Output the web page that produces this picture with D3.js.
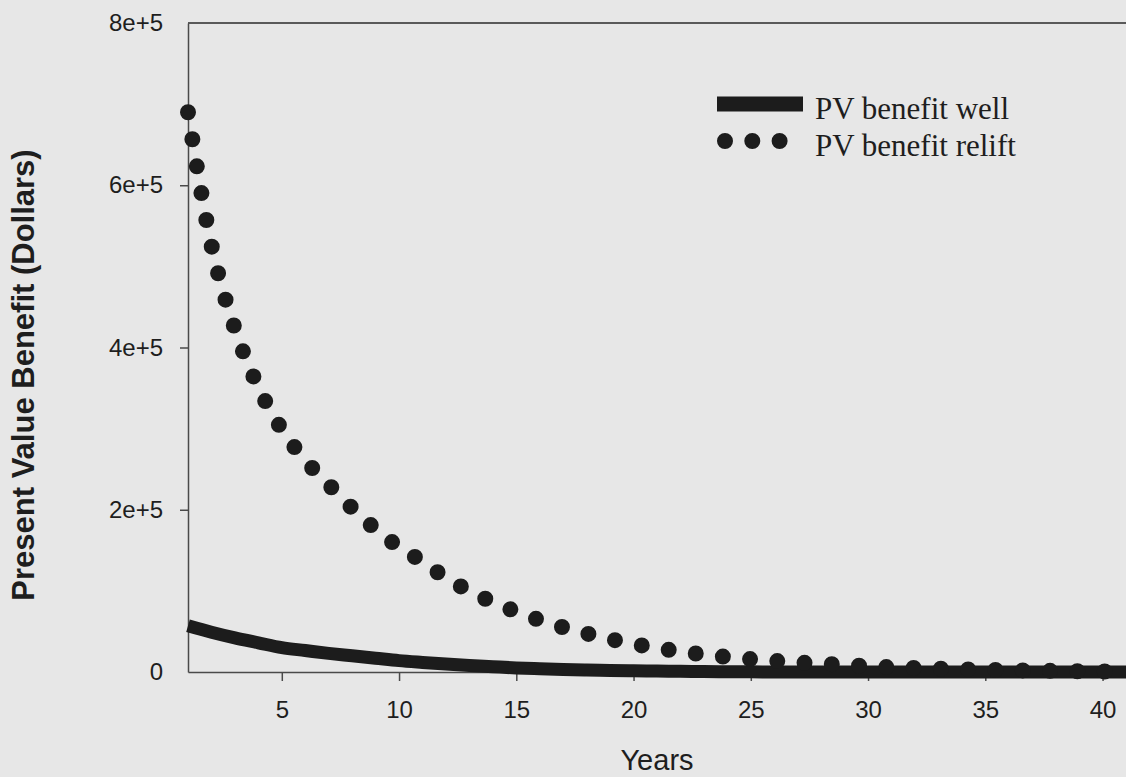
<!DOCTYPE html>
<html>
<head>
<style>
body { margin: 0; background: #e7e7e7; }
svg { display: block; background: #e7e7e7; }
.axis path, .axis line { stroke: #4a4a4a; stroke-width: 1.5; }
.axis text { font-family: "Liberation Sans", Arial, sans-serif; font-size: 24px; fill: #1e1e1e; }
.title { font-family: "Liberation Sans", Arial, sans-serif; fill: #1e1e1e; }
.legend text { font-family: "Liberation Serif", "Times New Roman", serif; font-size: 31px; fill: #1e1e1e; }
</style>
<title>pv benefit</title>
<script src="https://cdn.jsdelivr.net/npm/d3@7/dist/d3.min.js"></script>
</head>
<body>
<svg width="1126" height="777"></svg>
<script>

var years = [1,2,3,4,5,6,7,8,9,10,11,12,13,14,15,16,17,18,19,20,
             21,22,23,24,25,26,27,28,29,30,31,32,33,34,35,36,37,38,39,40,41];

// PV benefit well (solid thick line)
var wellValues = [57000,49000,42000,36000,30000,26500,23000,20000,17000,14000,
                  11800,9800,8000,6500,5000,4000,3200,2500,2000,1500,
                  1200,900,600,300,200,100,0,0,0,0,
                  0,0,0,0,0,0,0,0,0,0,0];

// PV benefit relift (dotted line)
var reliftValues = [690000,526000,423000,351000,299000,261000,231000,202000,176000,154000,
                    136000,116000,100000,86000,74500,64000,55000,47500,40500,34600,
                    29700,25200,21600,18400,15900,13700,11800,10200,8900,7000,
                    5800,4900,4100,3400,2800,2200,1700,1300,900,600,400];

var xTicks = [5,10,15,20,25,30,35,40];
var yTicks = [0,200000,400000,600000,800000];
var yTickLabels = ["0","2e+5","4e+5","6e+5","8e+5"];

var legendItems = [
  {text: "PV benefit well", kind: "solid"},
  {text: "PV benefit relift", kind: "dots"}
];

var svg = d3.select("svg"),
    margin = {top: 23, right: 0, bottom: 105, left: 188},
    width = +svg.attr("width") - margin.left - margin.right,
    height = +svg.attr("height") - margin.top - margin.bottom;

var x = d3.scaleLinear().domain([1, 41]).range([0, width]),
    y = d3.scaleLinear().domain([0, 800000]).range([height, 0]);

var g = svg.append("g")
    .attr("transform", "translate(" + margin.left + "," + margin.top + ")");

// frame top line
g.append("line")
    .attr("x1", 0).attr("x2", width + 2)
    .attr("y1", 0).attr("y2", 0)
    .attr("stroke", "#5a5a5a")
    .attr("stroke-width", 2);

g.append("g")
    .attr("class", "axis axis--x")
    .attr("transform", "translate(0," + height + ")")
    .call(d3.axisBottom(x).tickValues(xTicks).tickSize(9).tickPadding(20).tickSizeOuter(0));

g.append("g")
    .attr("class", "axis axis--y")
    .call(d3.axisLeft(y).tickValues(yTicks).tickSize(8).tickPadding(17).tickSizeOuter(0)
      .tickFormat(function(d, i) { return yTickLabels[i]; }));

// no tick mark at 0 / 8e+5 corners
g.selectAll(".axis--y .tick line").filter(function(d) { return d === 0 || d === 800000; }).remove();

var wellData = years.map(function(yr, i) { return {year: yr, value: wellValues[i]}; });
var reliftData = years.map(function(yr, i) { return {year: yr, value: reliftValues[i]}; });

var line = d3.line()
    .curve(d3.curveMonotoneX)
    .x(function(d) { return x(d.year); })
    .y(function(d) { return y(d.value); });

g.append("path")
    .datum(wellData)
    .attr("fill", "none")
    .attr("stroke", "#1c1c1c")
    .attr("stroke-width", 13)
    .attr("d", line);

g.append("path")
    .datum(reliftData)
    .attr("fill", "none")
    .attr("stroke", "#1c1c1c")
    .attr("stroke-width", 16)
    .attr("stroke-linecap", "round")
    .attr("stroke-dasharray", "0 27.3")
    .attr("d", line);

// axis titles
svg.append("text")
    .attr("class", "title")
    .attr("x", margin.left + width / 2)
    .attr("y", 770)
    .attr("text-anchor", "middle")
    .style("font-size", "29px")
    .text("Years");

svg.append("text")
    .attr("class", "title")
    .attr("transform", "translate(34," + 375 + ") rotate(-90)")
    .attr("text-anchor", "middle")
    .style("font-size", "31px")
    .style("font-weight", "bold")
    .text("Present Value Benefit (Dollars)");

// legend
var legend = svg.append("g")
    .attr("class", "legend")
    .attr("transform", "translate(717,104)");

legendItems.forEach(function(entry, i) {
  var cy = i * 37;
  if (entry.kind === "solid") {
    legend.append("line")
      .attr("x1", 0).attr("x2", 86)
      .attr("y1", cy).attr("y2", cy)
      .attr("stroke", "#1c1c1c")
      .attr("stroke-width", 15);
  } else {
    legend.append("line")
      .attr("x1", 8).attr("x2", 64)
      .attr("y1", cy).attr("y2", cy)
      .attr("stroke", "#1c1c1c")
      .attr("stroke-width", 16)
      .attr("stroke-linecap", "round")
      .attr("stroke-dasharray", "0 27.3");
  }
  legend.append("text")
    .attr("x", 98)
    .attr("y", cy + 15)
    .text(entry.text);
});

</script>
</body>
</html>
